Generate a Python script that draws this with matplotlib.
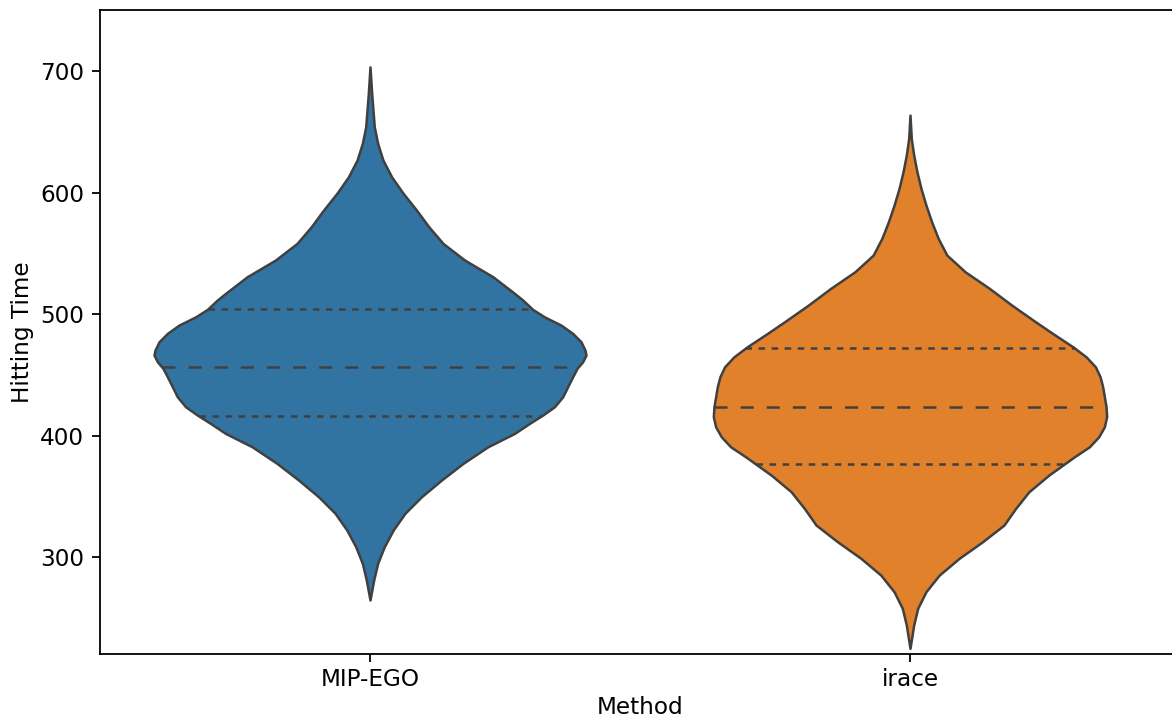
import numpy as np
import matplotlib
matplotlib.use("Agg")
import matplotlib.pyplot as plt

# Categories and colours
methods = ["MIP-EGO", "irace"]
colors = ["#3274a1", "#e1812c"]
outline = "#404040"

# Kernel density profiles (value -> relative density) for each method
mip_ego_levels = [264.9, 281.3, 295.1, 308.7, 322.5, 336.2, 349.9, 363.6, 377.3, 391.0,
                  402.0, 410.2, 417.1, 423.9, 432.1, 440.4, 448.6, 455.5, 460.9, 466.4,
                  470.5, 477.4, 484.3, 491.1, 497.9, 504.0, 511.7, 517.2, 530.9, 544.6,
                  558.3, 572.0, 585.7, 599.5, 613.1, 626.9, 640.6, 654.3, 681.7, 703.6]
mip_ego_density = [0.0, 3.7, 7.7, 14.3, 23.3, 35.0, 51.7, 71.7, 93.3, 118.3,
                   145.0, 160.0, 173.3, 185.0, 193.3, 198.3, 203.3, 207.7, 213.3, 216.7,
                   215.7, 211.7, 203.3, 191.7, 175.0, 163.3, 153.3, 145.0, 123.3, 95.0,
                   73.3, 59.0, 46.7, 33.3, 21.7, 13.0, 7.7, 4.3, 1.7, 0.0]

irace_levels = [225.1, 244.3, 258.0, 271.7, 285.4, 299.2, 312.8, 326.6, 340.3, 354.0,
                367.7, 382.8, 391.0, 399.2, 407.4, 415.7, 423.9, 432.1, 440.4, 448.6,
                456.8, 465.0, 473.3, 484.3, 493.8, 507.6, 521.3, 535.0, 548.7, 562.4,
                576.1, 589.8, 603.6, 617.2, 631.0, 644.7, 663.9]
irace_density = [0.0, 3.7, 7.7, 16.0, 29.3, 49.3, 72.7, 94.3, 106.0, 119.3,
                 139.3, 165.0, 180.0, 189.3, 195.0, 197.3, 196.7, 195.0, 193.3, 190.7,
                 186.0, 176.7, 163.3, 143.0, 126.0, 102.0, 79.7, 55.3, 37.0, 28.3,
                 21.7, 16.0, 11.0, 7.0, 3.7, 1.3, 0.0]

# Quartiles (Q1, median, Q3)
mip_ego_quartiles = [416.2, 456.3, 504.3]
irace_quartiles = [376.5, 423.9, 472.2]

levels = [mip_ego_levels, irace_levels]
densities = [mip_ego_density, irace_density]
quartiles = [mip_ego_quartiles, irace_quartiles]

plt.rcParams.update({
    "font.family": "DejaVu Sans",
    "font.size": 16.7,
    "axes.linewidth": 1.3,
    "xtick.major.size": 5.8,
    "ytick.major.size": 5.8,
    "xtick.major.width": 1.3,
    "ytick.major.width": 1.3,
    "xtick.major.pad": 4.3,
    "ytick.major.pad": 5.8,
    "lines.scale_dashes": False,
})

fig = plt.figure(figsize=(11.72, 7.19), dpi=100)
ax = fig.add_axes([100 / 1172, 65.3 / 719, 1080 / 1172, 643.2 / 719])

peak = max(max(d) for d in densities)
full_width = 0.8
positions = np.arange(len(methods))

stats = []
widths = []
for lv, dn, q in zip(levels, densities, quartiles):
    lv = np.asarray(lv, dtype=float)
    dn = np.asarray(dn, dtype=float)
    stats.append({
        "coords": lv, "vals": dn,
        "mean": q[1], "median": q[1],
        "min": lv.min(), "max": lv.max(),
    })
    widths.append(full_width * dn.max() / peak)

parts = ax.violin(stats, positions=positions, widths=widths,
                  showmeans=False, showextrema=False, showmedians=False)
for body, c in zip(parts["bodies"], colors):
    body.set_facecolor(c)
    body.set_edgecolor(outline)
    body.set_linewidth(1.8)
    body.set_joinstyle("round")
    body.set_alpha(1)
    body.set_zorder(1)

# Quartile lines spanning the violin at each quartile level
for pos, st, w, q in zip(positions, stats, widths, quartiles):
    vmax = np.max(st["vals"])
    for k, qv in enumerate(q):
        hw = 0.5 * w * np.interp(qv, st["coords"], st["vals"]) / vmax
        dash = (9.4, 9.4) if k == 1 else (4.7, 4.7)
        ax.plot([pos - hw, pos + hw], [qv, qv], color=outline, linewidth=1.8,
                dashes=dash, solid_capstyle="butt", dash_capstyle="butt", zorder=2)

ax.set_xlim(-0.5, 1.5)
ax.set_ylim(220.7, 750)
ax.set_xticks(positions)
ax.set_xticklabels(methods)
ax.set_yticks([300, 400, 500, 600, 700])
ax.set_xlabel("Method")
ax.set_ylabel("Hitting Time")

fig.savefig("out.png", dpi=100)
